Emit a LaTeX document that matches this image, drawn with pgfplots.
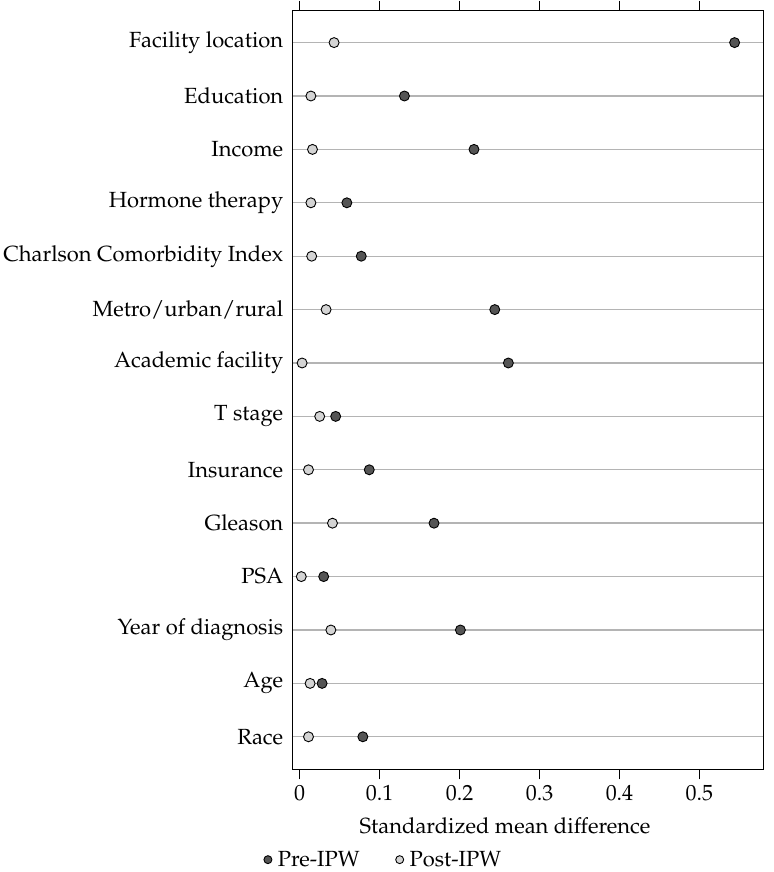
\documentclass[border=0pt]{standalone}
\usepackage[T1]{fontenc}
\usepackage{mathpazo}
\usepackage{pgfplots}
\pgfplotsset{compat=1.18}

\definecolor{predot}{HTML}{555555}
\definecolor{postdot}{HTML}{D4D4D4}
\definecolor{gridgray}{HTML}{B4B4B4}

% y: Race = 1 ... Facility location = 14
\pgfplotstableread{
x      y
0.544  14
0.131  13
0.218  12
0.059  11
0.077  10
0.244  9
0.261  8
0.045  7
0.087  6
0.168  5
0.030  4
0.201  3
0.028  2
0.079  1
}\pretable
\pgfplotstableread{
x      y
0.043  14
0.014  13
0.016  12
0.014  11
0.015  10
0.033  9
0.003  8
0.025  7
0.011  6
0.041  5
0.002  4
0.039  3
0.013  2
0.011  1
}\posttable

\begin{document}
\begin{tikzpicture}
\begin{axis}[
  scale only axis,
  width=472pt, height=761pt,
  xmin=-0.0087, xmax=0.580,
  ymin=0.39, ymax=14.6,
  axis line style={line width=1.2pt},
  font=\fontsize{22}{26}\selectfont,
  xtick={0,0.1,0.2,0.3,0.4,0.5},
  xticklabels={0,0.1,0.2,0.3,0.4,0.5},
  xtick pos=both,
  xticklabel pos=bottom,
  tick align=outside,
  major tick length=10pt,
  tick style={black, line width=1.2pt},
  xticklabel style={yshift=-2pt},
  ytick={1,...,14},
  yticklabels={Race,Age,Year of diagnosis,PSA,Gleason,Insurance,T stage,Academic facility,Metro/urban/rural,Charlson Comorbidity Index,Hormone therapy,Income,Education,Facility location},
  ytick style={draw=none},
  yticklabel style={xshift=4pt},
  ymajorgrids,
  grid style={gridgray, line width=1.4pt},
  xlabel={Standardized mean difference},
  xlabel style={at={(axis description cs:0.451,-0.064)}, anchor=north, inner sep=0pt},
  legend columns=2,
  legend style={at={(axis description cs:0.193,-0.119)}, anchor=center, draw=none,
    fill=none, font=\fontsize{22}{26}\selectfont,
    /tikz/every odd column/.append style={column sep=4pt},
    /tikz/every even column/.append style={column sep=34pt}},
  legend cell align=left,
  legend image code/.code={\draw[#1, mark size=4pt] plot coordinates {(0pt,0pt)};},
]
\addplot[only marks, mark=*, mark size=5pt, mark options={fill=predot, draw=black, line width=0.9pt}]
  table[x=x, y=y] {\pretable};
\addlegendentry{Pre-IPW}
\addplot[only marks, mark=*, mark size=5pt, mark options={fill=postdot, draw=black, line width=0.9pt}]
  table[x=x, y=y] {\posttable};
\addlegendentry{Post-IPW}
\end{axis}
\end{tikzpicture}
\end{document}
